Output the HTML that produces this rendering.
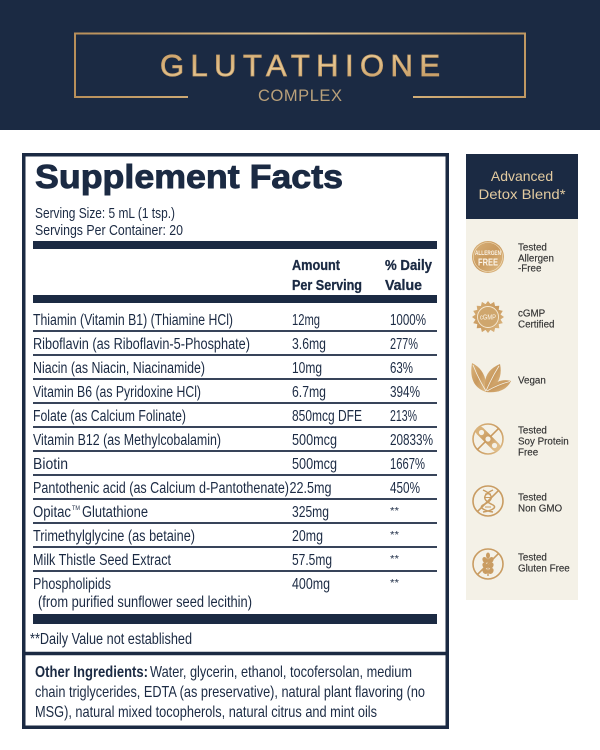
<!DOCTYPE html>
<html>
<head>
<meta charset="utf-8">
<style>
html,body{margin:0;padding:0;background:#ffffff;width:600px;height:750px;overflow:hidden;}
svg{display:block;}
</style>
</head>
<body>
<svg width="600" height="750" viewBox="0 0 600 750" xmlns="http://www.w3.org/2000/svg" font-family="'Liberation Sans', Arial, sans-serif">
  <defs>
    <linearGradient id="gold" x1="0" y1="0" x2="1" y2="0">
      <stop offset="0" stop-color="#b88f5a"/>
      <stop offset="0.5" stop-color="#e2c28c"/>
      <stop offset="1" stop-color="#c09862"/>
    </linearGradient>
    <linearGradient id="goldT" x1="0" y1="0" x2="1" y2="1">
      <stop offset="0" stop-color="#c89b62"/>
      <stop offset="0.5" stop-color="#e6c894"/>
      <stop offset="1" stop-color="#c0935a"/>
    </linearGradient>
    <linearGradient id="goldI" x1="0" y1="0" x2="1" y2="1">
      <stop offset="0" stop-color="#d9b27a"/>
      <stop offset="0.5" stop-color="#c99a5f"/>
      <stop offset="1" stop-color="#e0bd88"/>
    </linearGradient>
  </defs>

  <!-- Header -->
  <rect x="0" y="0" width="600" height="130" fill="#1b2a43"/>
  <g stroke="url(#gold)" stroke-width="2" fill="none">
    <polyline points="188,97 75,97 75,33.5 525,33.5 525,97 413,97"/>
  </g>
  <text x="160" y="76" font-size="31" fill="url(#goldT)" stroke="#c9a06a" stroke-width="0.8" textLength="280" lengthAdjust="spacing">GLUTATHIONE</text>
  <text x="258" y="101" font-size="16.5" fill="#b9a07a" textLength="84" lengthAdjust="spacing">COMPLEX</text>

  <!-- Main facts box -->
  <rect x="23.75" y="154.75" width="423.5" height="572.5" fill="#ffffff" stroke="#1b2a43" stroke-width="3.5"/>
  <line x1="22" y1="653.5" x2="449" y2="653.5" stroke="#1b2a43" stroke-width="3.5"/>

  <g fill="#1b2a43">
    <text x="35" y="188" font-size="33" font-weight="bold" stroke="#1b2a43" stroke-width="0.9" textLength="308" lengthAdjust="spacingAndGlyphs">Supplement Facts</text>
    <text x="35" y="218" font-size="14.5" textLength="140" lengthAdjust="spacingAndGlyphs">Serving Size: 5 mL (1 tsp.)</text>
    <text x="35" y="235" font-size="14.5" textLength="148" lengthAdjust="spacingAndGlyphs">Servings Per Container: 20</text>

    <rect x="33" y="241" width="404" height="8"/>
    <rect x="33" y="295" width="404" height="8"/>
    <rect x="33" y="614" width="404" height="10"/>

    <g stroke="#1b2a43" stroke-width="0.3">
    <text x="292" y="270" font-size="15" font-weight="bold" textLength="48" lengthAdjust="spacingAndGlyphs">Amount</text>
    <text x="292" y="290" font-size="15" font-weight="bold" textLength="70" lengthAdjust="spacingAndGlyphs">Per Serving</text>
    <text x="385" y="270" font-size="15" font-weight="bold" textLength="47" lengthAdjust="spacingAndGlyphs">% Daily</text>
    <text x="385" y="290" font-size="15" font-weight="bold" textLength="37" lengthAdjust="spacingAndGlyphs">Value</text>
    </g>
  </g>

  <!-- row dividers -->
  <g stroke="#1b2a43" stroke-width="1.7">
    <line x1="33" y1="331" x2="437" y2="331"/>
    <line x1="33" y1="355" x2="437" y2="355"/>
    <line x1="33" y1="379" x2="437" y2="379"/>
    <line x1="33" y1="403" x2="437" y2="403"/>
    <line x1="33" y1="427" x2="437" y2="427"/>
    <line x1="33" y1="451" x2="437" y2="451"/>
    <line x1="33" y1="475" x2="437" y2="475"/>
    <line x1="33" y1="499" x2="437" y2="499"/>
    <line x1="33" y1="523" x2="437" y2="523"/>
    <line x1="33" y1="547" x2="437" y2="547"/>
    <line x1="33" y1="571" x2="437" y2="571"/>
  </g>

  <g fill="#1b2a43" font-size="15.5">
    <text x="33" y="325" textLength="200" lengthAdjust="spacingAndGlyphs">Thiamin (Vitamin B1) (Thiamine HCl)</text>
    <text x="292" y="325" textLength="28" lengthAdjust="spacingAndGlyphs">12mg</text>
    <text x="390" y="325" textLength="36" lengthAdjust="spacingAndGlyphs">1000%</text>

    <text x="33" y="349" textLength="217" lengthAdjust="spacingAndGlyphs">Riboflavin (as Riboflavin-5-Phosphate)</text>
    <text x="292" y="349" textLength="34" lengthAdjust="spacingAndGlyphs">3.6mg</text>
    <text x="390" y="349" textLength="28" lengthAdjust="spacingAndGlyphs">277%</text>

    <text x="33" y="373" textLength="172" lengthAdjust="spacingAndGlyphs">Niacin (as Niacin, Niacinamide)</text>
    <text x="292" y="373" textLength="30" lengthAdjust="spacingAndGlyphs">10mg</text>
    <text x="390" y="373" textLength="23" lengthAdjust="spacingAndGlyphs">63%</text>

    <text x="33" y="397" textLength="168" lengthAdjust="spacingAndGlyphs">Vitamin B6 (as Pyridoxine HCl)</text>
    <text x="292" y="397" textLength="34" lengthAdjust="spacingAndGlyphs">6.7mg</text>
    <text x="390" y="397" textLength="30" lengthAdjust="spacingAndGlyphs">394%</text>

    <text x="33" y="421" textLength="153" lengthAdjust="spacingAndGlyphs">Folate (as Calcium Folinate)</text>
    <text x="292" y="421" textLength="70" lengthAdjust="spacingAndGlyphs">850mcg DFE</text>
    <text x="390" y="421" textLength="27" lengthAdjust="spacingAndGlyphs">213%</text>

    <text x="33" y="445" textLength="188" lengthAdjust="spacingAndGlyphs">Vitamin B12 (as Methylcobalamin)</text>
    <text x="292" y="445" textLength="45" lengthAdjust="spacingAndGlyphs">500mcg</text>
    <text x="390" y="445" textLength="43" lengthAdjust="spacingAndGlyphs">20833%</text>

    <text x="33" y="469" textLength="35" lengthAdjust="spacingAndGlyphs">Biotin</text>
    <text x="292" y="469" textLength="45" lengthAdjust="spacingAndGlyphs">500mcg</text>
    <text x="390" y="469" textLength="35" lengthAdjust="spacingAndGlyphs">1667%</text>

    <text x="33" y="493" textLength="256" lengthAdjust="spacingAndGlyphs">Pantothenic acid (as Calcium d-Pantothenate)</text>
    <text x="289.5" y="493" textLength="42" lengthAdjust="spacingAndGlyphs">22.5mg</text>
    <text x="390" y="493" textLength="30" lengthAdjust="spacingAndGlyphs">450%</text>

    <text x="33" y="517" textLength="38" lengthAdjust="spacingAndGlyphs">Opitac</text>
    <text x="72" y="510" font-size="6.5" textLength="8" lengthAdjust="spacingAndGlyphs">TM</text>
    <text x="82" y="517" textLength="66" lengthAdjust="spacingAndGlyphs">Glutathione</text>
    <text x="292" y="517" textLength="37" lengthAdjust="spacingAndGlyphs">325mg</text>
    <text x="390" y="514" font-size="10" textLength="9" lengthAdjust="spacingAndGlyphs">**</text>

    <text x="33" y="541" textLength="162" lengthAdjust="spacingAndGlyphs">Trimethylglycine (as betaine)</text>
    <text x="292" y="541" textLength="31" lengthAdjust="spacingAndGlyphs">20mg</text>
    <text x="390" y="538" font-size="10" textLength="9" lengthAdjust="spacingAndGlyphs">**</text>

    <text x="33" y="565" textLength="138" lengthAdjust="spacingAndGlyphs">Milk Thistle Seed Extract</text>
    <text x="292" y="565" textLength="40" lengthAdjust="spacingAndGlyphs">57.5mg</text>
    <text x="390" y="562" font-size="10" textLength="9" lengthAdjust="spacingAndGlyphs">**</text>

    <text x="33" y="589" textLength="78" lengthAdjust="spacingAndGlyphs">Phospholipids</text>
    <text x="38" y="607" textLength="214" lengthAdjust="spacingAndGlyphs">(from purified sunflower seed lecithin)</text>
    <text x="292" y="589" textLength="38" lengthAdjust="spacingAndGlyphs">400mg</text>
    <text x="390" y="586" font-size="10" textLength="9" lengthAdjust="spacingAndGlyphs">**</text>

    <text x="30" y="644" textLength="162" lengthAdjust="spacingAndGlyphs">**Daily Value not established</text>

    <text x="35" y="677" font-size="16" font-weight="bold" textLength="113" lengthAdjust="spacingAndGlyphs">Other Ingredients:</text>
    <text x="150" y="677" font-size="16" textLength="262" lengthAdjust="spacingAndGlyphs">Water, glycerin, ethanol, tocofersolan, medium</text>
    <text x="35" y="697" font-size="16" textLength="390" lengthAdjust="spacingAndGlyphs">chain triglycerides, EDTA (as preservative), natural plant flavoring (no</text>
    <text x="35" y="717" font-size="16" textLength="342" lengthAdjust="spacingAndGlyphs">MSG), natural mixed tocopherols, natural citrus and mint oils</text>
  </g>

  <!-- Side panel -->
  <rect x="466" y="154" width="112" height="65" fill="#1b2a43"/>
  <rect x="466" y="219" width="112" height="381" fill="#f4f1e7"/>
  <text x="522" y="181" font-size="14" fill="#e3cba0" text-anchor="middle">Advanced</text>
  <text x="522" y="199" font-size="14" fill="#e3cba0" text-anchor="middle" textLength="87" lengthAdjust="spacingAndGlyphs">Detox Blend*</text>

  <!-- Allergen free icon -->
  <circle cx="488" cy="257" r="16" fill="url(#goldI)"/>
  <circle cx="488" cy="257" r="14.5" fill="none" stroke="#f1dfbd" stroke-width="0.6"/>
  <text x="488" y="255" font-size="6.5" font-weight="bold" fill="#fbf5ea" text-anchor="middle" textLength="26" lengthAdjust="spacingAndGlyphs">ALLERGEN</text>
  <text x="488" y="265.5" font-size="10" font-weight="bold" fill="#fbf5ea" text-anchor="middle" textLength="20" lengthAdjust="spacingAndGlyphs">FREE</text>

  <!-- cGMP icon -->
  <polygon fill="url(#goldI)" points="504.0,317.0 500.5,319.5 502.8,323.1 498.7,324.1 499.3,328.3 495.1,328.0 494.1,332.1 490.5,329.9 488.0,333.0 485.5,329.9 481.9,332.1 480.9,328.0 476.7,328.3 477.3,324.1 473.2,323.1 475.5,319.5 472.0,317.0 475.5,314.5 473.2,310.9 477.3,309.9 476.7,305.7 480.9,306.0 481.9,301.9 485.5,304.1 488.0,301.0 490.5,304.1 494.1,301.9 495.1,306.0 499.3,305.7 498.7,309.9 502.8,310.9 500.5,314.5"/>
  <circle cx="488" cy="317" r="10.5" fill="#cfa66d" stroke="#f6ead4" stroke-width="0.9"/>
  <text x="488" y="319.5" font-size="7" fill="#fbf5ea" text-anchor="middle" textLength="16" lengthAdjust="spacingAndGlyphs">cGMP</text>

  <!-- Vegan icon -->
  <g fill="url(#goldI)">
    <path d="M486,392 Q468,386 472,363 Q488,371 486,392 Z"/>
    <path d="M486,392 Q481,372 500,364 Q504,383 486,392 Z"/>
    <path d="M486,392 Q497,377 511,381 Q505,394 486,392 Z"/>
  </g>
  <g stroke="#f4f1e7" stroke-width="0.8" fill="none">
    <path d="M486,391 Q478,378 473,365"/>
    <path d="M486,391 Q492,377 499,366"/>
    <path d="M487,391 Q499,384 510,381.5"/>
  </g>

  <!-- Soy free icon -->
  <g stroke="url(#goldI)" fill="none">
    <circle cx="488" cy="439" r="15" stroke-width="1.6"/>
    <line x1="498.6" y1="428.4" x2="477.4" y2="449.6" stroke-width="1.6"/>
    <line x1="480" y1="431" x2="496" y2="447" stroke-width="9" stroke-linecap="round"/>
  </g>
  <g fill="#f4f1e7">
    <circle cx="481.5" cy="432.5" r="2.6"/>
    <circle cx="488" cy="439" r="2.6"/>
    <circle cx="494.5" cy="445.5" r="2.6"/>
  </g>

  <!-- Non GMO icon -->
  <g stroke="#c99c62" fill="none">
    <circle cx="488" cy="501" r="15" stroke-width="1.6"/>
    <line x1="498.6" y1="490.4" x2="477.4" y2="511.6" stroke-width="1.6"/>
    <path d="M483,490 C494,495 494,500 483,505 C478,508 486,511 493,512" stroke-width="1.5"/>
    <path d="M493,490 C482,495 482,500 493,505 C498,508 490,511 483,512" stroke-width="1.5"/>
    <line x1="485" y1="494" x2="491" y2="494" stroke-width="1"/>
    <line x1="484" y1="497.5" x2="492" y2="497.5" stroke-width="1"/>
    <line x1="485" y1="507" x2="491" y2="507" stroke-width="1"/>
  </g>

  <!-- Gluten free icon -->
  <g stroke="#c99c62" fill="none">
    <circle cx="488" cy="564" r="15" stroke-width="1.6"/>
    <line x1="498.6" y1="553.4" x2="477.4" y2="574.6" stroke-width="1.6"/>
    <line x1="488" y1="555" x2="488" y2="576" stroke-width="1.4"/>
  </g>
  <g fill="#c99c62">
    <ellipse cx="488" cy="555.5" rx="2" ry="3"/>
    <ellipse cx="485" cy="560" rx="2.4" ry="3.2" transform="rotate(-30 485 560)"/>
    <ellipse cx="491" cy="560" rx="2.4" ry="3.2" transform="rotate(30 491 560)"/>
    <ellipse cx="485" cy="565.5" rx="2.4" ry="3.2" transform="rotate(-30 485 565.5)"/>
    <ellipse cx="491" cy="565.5" rx="2.4" ry="3.2" transform="rotate(30 491 565.5)"/>
    <ellipse cx="485" cy="571" rx="2.4" ry="3.2" transform="rotate(-30 485 571)"/>
    <ellipse cx="491" cy="571" rx="2.4" ry="3.2" transform="rotate(30 491 571)"/>
  </g>

  <!-- Side labels -->
  <g fill="#333333" font-size="9.8" stroke="#333333" stroke-width="0.15">
    <text x="518" y="250.5">Tested</text>
    <text x="518" y="261.5">Allergen</text>
    <text x="518" y="271.5">-Free</text>

    <text x="518" y="316.5">cGMP</text>
    <text x="518" y="327.5">Certified</text>

    <text x="518" y="383.5">Vegan</text>

    <text x="518" y="433.5">Tested</text>
    <text x="518" y="444.5">Soy Protein</text>
    <text x="518" y="455.5">Free</text>

    <text x="518" y="500.5">Tested</text>
    <text x="518" y="511.5">Non GMO</text>

    <text x="518" y="560.5">Tested</text>
    <text x="518" y="571.5">Gluten Free</text>
  </g>
</svg>
</body>
</html>
